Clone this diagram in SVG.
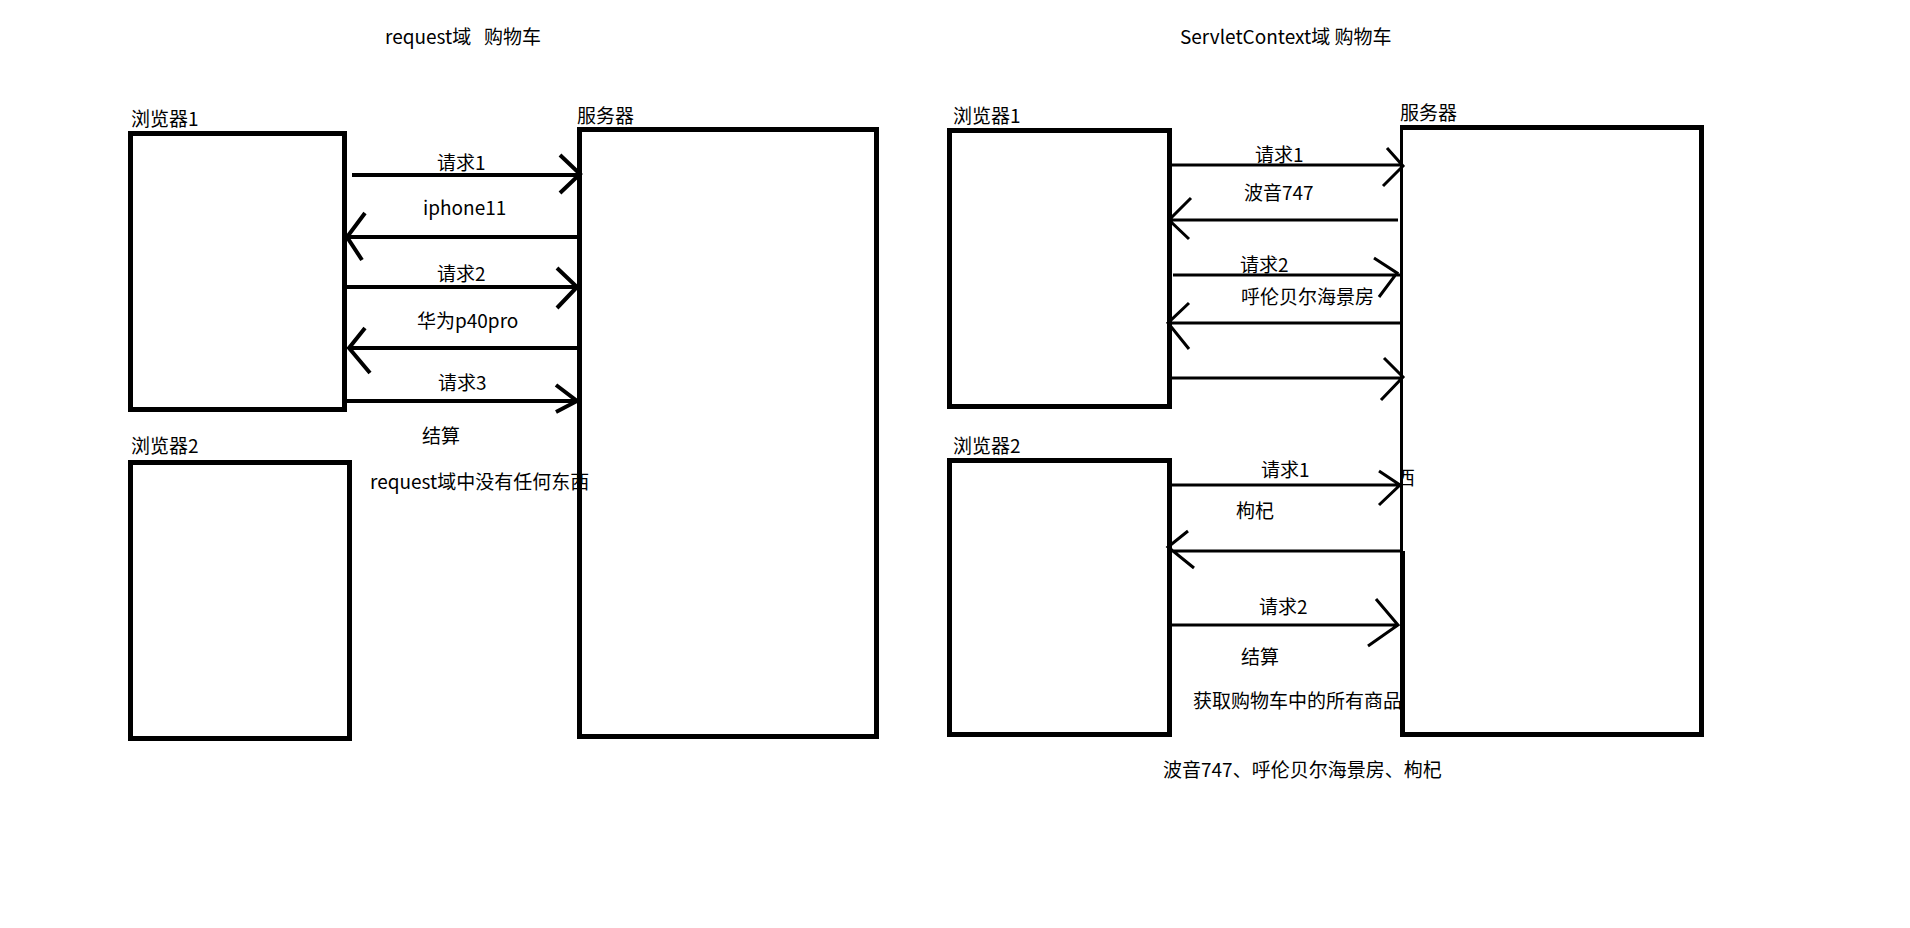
<svg xmlns="http://www.w3.org/2000/svg" width="1910" height="928" viewBox="0 0 1910 928">
<style>
text{font-family:"Noto Sans CJK SC","Liberation Sans",sans-serif;font-size:19px;fill:#000}
.box{fill:none;stroke:#000;stroke-width:5}
.a{fill:none;stroke:#000;stroke-width:4;stroke-linecap:butt;stroke-linejoin:miter}
.b{fill:none;stroke:#000;stroke-width:3;stroke-linejoin:miter}
</style>
<defs><clipPath id="cx"><rect x="1403" y="460" width="20" height="40"/></clipPath></defs>
<rect width="1910" height="928" fill="#fff"/>
<text x="385" y="44" xml:space="preserve">request域   购物车</text>
<text x="1180" y="44">ServletContext域 购物车</text>
<g id="browser1-left"><rect class="box" x="130.5" y="133.5" width="214" height="276"/><text x="131" y="126">浏览器1</text></g>
<g id="browser2-left"><rect class="box" x="130.5" y="462.5" width="219" height="276"/><text x="131" y="453">浏览器2</text></g>
<g id="server-left"><rect class="box" x="579.5" y="129.5" width="297" height="607"/><text x="577" y="123">服务器</text></g>
<g id="browser1-right"><rect class="box" x="949.5" y="130.5" width="220" height="276"/><text x="953" y="123">浏览器1</text></g>
<g id="browser2-right"><rect class="box" x="949.5" y="460.5" width="220" height="274"/><text x="953" y="453">浏览器2</text></g>
<g id="server-right">
<text x="1396" y="485" clip-path="url(#cx)">西</text>
<path class="box" d="M1402.5 551 V734.5 H1701.5 V127.5 H1400"/>
<path d="M1401.5 127.5 V551" stroke="#000" stroke-width="3" fill="none"/>
<text x="1400" y="120">服务器</text>
</g>
<g id="connectors">
<path class="a" d="M352 175 H580 M560 155 L580 174 L560 193"/>
<path class="a" d="M577 237 H347 M365 213 L347 237 L362 260"/>
<path class="a" d="M347 287 H577 M557 268 L577 287 L557 308"/>
<path class="a" d="M577 348 H348 M365 328 L349 348 L370 373"/>
<path class="a" d="M347 401 H577 M556 385 L577 401 L556 412"/>
<path class="b" d="M1169 165 H1403 M1387 148 L1403 166 L1383 186"/>
<path class="b" d="M1398 220 H1169 M1191 198 L1169 220 L1189 239"/>
<path class="b" d="M1173 275 H1400 M1374 258 L1397 273 L1379 297"/>
<path class="b" d="M1400 323 H1168 M1189 303 L1168 323 L1189 349"/>
<path class="b" d="M1169 378 H1403 M1384 358 L1403 377 L1381 400"/>
<path class="b" d="M1172 485 H1400 M1379 471 L1400 485 L1379 505"/>
<path class="b" d="M1401 551 H1169 M1188 531 L1168 547 L1194 568"/>
<path class="b" d="M1172 625 H1398 M1376 599 L1398 625 L1368 646"/>
</g>
<g id="labels">
<text x="437" y="170">请求1</text>
<text x="423" y="215">iphone11</text>
<text x="437" y="281">请求2</text>
<text x="417" y="328">华为p40pro</text>
<text x="438" y="390">请求3</text>
<text x="422" y="443">结算</text>
<text x="370" y="489">request域中没有任何东西</text>
<text x="1255" y="162">请求1</text>
<text x="1244" y="200">波音747</text>
<text x="1240" y="272">请求2</text>
<text x="1241" y="304">呼伦贝尔海景房</text>
<text x="1261" y="477">请求1</text>
<text x="1236" y="518">枸杞</text>
<text x="1259" y="614">请求2</text>
<text x="1241" y="664">结算</text>
<text x="1193" y="708">获取购物车中的所有商品</text>
<text x="1163" y="777">波音747、呼伦贝尔海景房、枸杞</text>
</g>
</svg>
